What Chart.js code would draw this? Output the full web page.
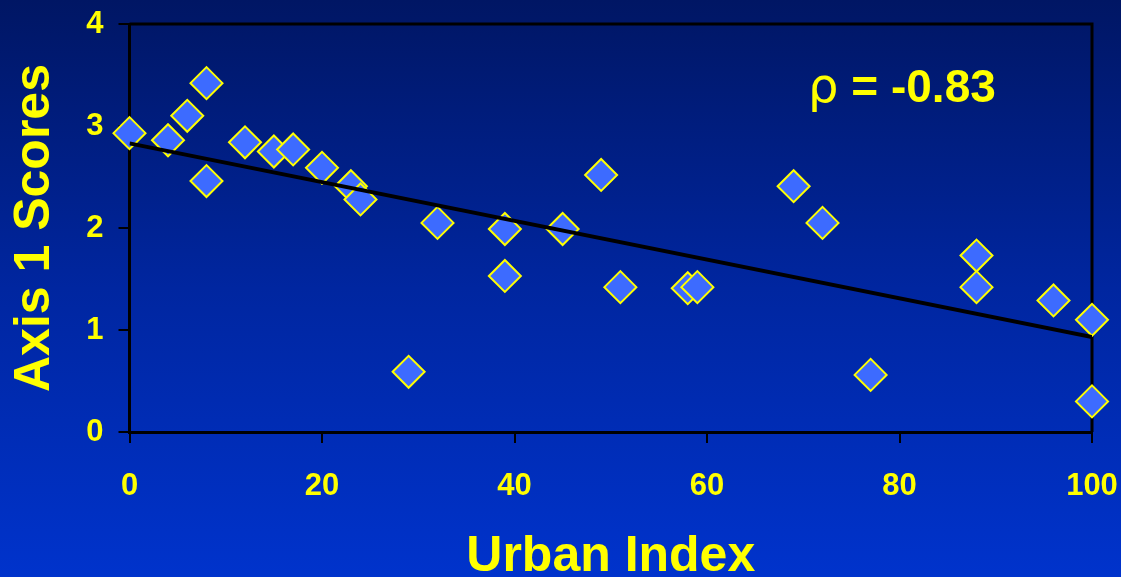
<!DOCTYPE html>
<html>
<head>
<meta charset="utf-8">
<script src="https://cdn.jsdelivr.net/npm/chart.js@4/dist/chart.umd.min.js"></script>
<style>
  html, body { margin: 0; padding: 0; }
  body {
    width: 1121px; height: 577px; overflow: hidden;
    background: linear-gradient(to bottom, #001664 0%, #0026a0 50%, #0033cc 100%);
  }
  #wrap { width: 1121px; height: 577px; }
</style>
</head>
<body>
<div id="wrap"><canvas id="myChart" width="1121" height="577"></canvas></div>
<script>
const urbanIndex = [0, 4, 6, 8, 8, 12, 15, 17, 20, 23, 24, 29, 32, 39, 39, 45, 49, 51, 58, 59, 69, 72, 77, 88, 88, 96, 100, 100];
const axis1Scores = [2.93, 2.86, 3.10, 3.42, 2.46, 2.84, 2.75, 2.77, 2.59, 2.41, 2.28, 0.59, 2.05, 1.99, 1.53, 1.99, 2.52, 1.42, 1.41, 1.42, 2.41, 2.05, 0.56, 1.73, 1.42, 1.29, 1.10, 0.30];
const trendX = [0, 100];
const trendY = [2.83, 0.93];
const xTicks = [0, 20, 40, 60, 80, 100];
const yTicks = [0, 1, 2, 3, 4];
const rhoLabel = '-0.83';

const yellow = '#ffff00';
const chartContext = document.getElementById('myChart').getContext('2d');

const points = urbanIndex.map((x, i) => ({ x: x, y: axis1Scores[i] }));
const trend = trendX.map((x, i) => ({ x: x, y: trendY[i] }));

// box lines on top/right + the rho annotation
const boxAndText = {
  id: 'boxAndText',
  beforeDatasetsDraw(chart) {
    const { ctx, chartArea } = chart;
    ctx.save();
    ctx.strokeStyle = '#000';
    ctx.lineWidth = 3;
    ctx.beginPath();
    ctx.moveTo(chartArea.left, chartArea.top);
    ctx.lineTo(chartArea.right, chartArea.top);
    ctx.lineTo(chartArea.right, chartArea.bottom);
    ctx.stroke();
    ctx.restore();
  },
  afterDraw(chart) {
    const { ctx, scales } = chart;
    const x = scales.x.getPixelForValue(70.5);
    const y = scales.y.getPixelForValue(3.24);
    ctx.save();
    ctx.fillStyle = yellow;
    ctx.textBaseline = 'alphabetic';
    ctx.textAlign = 'left';
    ctx.font = '48px "DejaVu Sans"';
    ctx.fillText('\u03c1', x, y);
    const w = ctx.measureText('\u03c1').width;
    ctx.font = 'bold 46px "Liberation Sans"';
    ctx.fillText(' = ' + rhoLabel, x + w, y);
    ctx.restore();
  }
};

new Chart(chartContext, {
  type: 'scatter',
  data: {
    datasets: [{
      type: 'line',
      data: trend,
      borderColor: '#000',
      borderWidth: 4,
      pointRadius: 0,
      fill: false,
      order: 0
    }, {
      data: points,
      pointStyle: 'rectRot',
      pointRadius: 16,
      pointHoverRadius: 16,
      backgroundColor: '#3d6bff',
      borderColor: yellow,
      borderWidth: 2,
      clip: false,
      order: 1
    }]
  },
  options: {
    responsive: false,
    animation: false,
    layout: { padding: { top: 24, right: 29, left: 0, bottom: 0 } },
    plugins: {
      legend: { display: false },
      tooltip: { enabled: false }
    },
    scales: {
      x: {
        type: 'linear',
        min: 0,
        max: 100,
        afterBuildTicks: axis => { axis.ticks = xTicks.map(v => ({ value: v })); },
        afterFit: axis => {
          axis.height = 145;
          axis.paddingLeft = 0;
          axis.paddingRight = 0;
        },
        ticks: {
          color: yellow,
          font: { family: 'Liberation Sans', size: 31, weight: 'bold' },
          padding: 25,
          maxRotation: 0
        },
        grid: { drawOnChartArea: false, drawTicks: true, tickLength: 11, color: '#000', lineWidth: 2 },
        border: { display: true, color: '#000', width: 3 },
        title: {
          display: true,
          text: 'Urban Index',
          color: yellow,
          font: { family: 'Liberation Sans', size: 50, weight: 'bold', lineHeight: 0.8 },
          padding: { top: 0, bottom: 0 }
        }
      },
      y: {
        type: 'linear',
        min: 0,
        max: 4,
        afterBuildTicks: axis => { axis.ticks = yTicks.map(v => ({ value: v })); },
        afterFit: axis => {
          axis.width = 129.5;
          axis.paddingTop = 0;
          axis.paddingBottom = 0;
        },
        ticks: {
          color: yellow,
          font: { family: 'Liberation Sans', size: 31, weight: 'bold' },
          padding: 15
        },
        grid: { drawOnChartArea: false, drawTicks: true, tickLength: 11, color: '#000', lineWidth: 2 },
        border: { display: true, color: '#000', width: 3 },
        title: {
          display: true,
          text: 'Axis 1 Scores',
          color: yellow,
          font: { family: 'Liberation Sans', size: 50, weight: 'bold', lineHeight: 0.8 },
          padding: { top: 15, bottom: 0 }
        }
      }
    }
  },
  plugins: [boxAndText]
});
</script>
</body>
</html>
